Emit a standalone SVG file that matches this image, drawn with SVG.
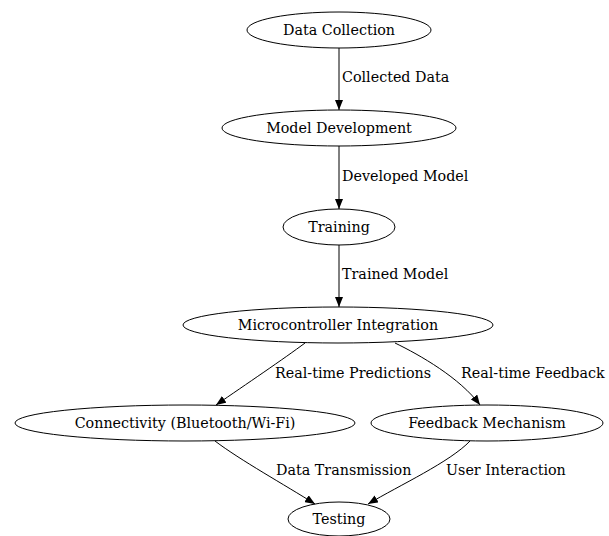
<svg xmlns="http://www.w3.org/2000/svg" width="609" height="536" viewBox="0 0 609 536">
<style>
.n ellipse{fill:none;stroke:#000;stroke-width:1}
text{font-family:"DejaVu Serif","Liberation Serif",serif;font-size:14.3px;fill:#000}
.n text{text-anchor:middle}
.e path{fill:none;stroke:#000;stroke-width:1}
</style>
<defs>
<marker id="ah" markerUnits="userSpaceOnUse" markerWidth="11" markerHeight="8" refX="10" refY="4" orient="auto">
<path d="M0,0 L10,4 L0,8 Z" fill="#000"/>
</marker>
</defs>
<rect width="609" height="536" fill="#fff"/>
<g class="e">
<path d="M339,48 L339,110" marker-end="url(#ah)"/>
<path d="M339,146 L339,209" marker-end="url(#ah)"/>
<path d="M339,245 L339,307" marker-end="url(#ah)"/>
<path d="M305,343 C285,358 245,385 216,405" marker-end="url(#ah)"/>
<path d="M395,343 C420,355 460,378 480,405" marker-end="url(#ah)"/>
<path d="M215,441 C240,460 285,485 315,504" marker-end="url(#ah)"/>
<path d="M470,441 C450,462 400,485 368,504" marker-end="url(#ah)"/>
<text x="342" y="82">Collected Data</text>
<text x="342" y="181">Developed Model</text>
<text x="342" y="279">Trained Model</text>
<text x="275" y="378">Real-time Predictions</text>
<text x="461" y="378">Real-time Feedback</text>
<text x="276" y="475">Data Transmission</text>
<text x="446" y="475">User Interaction</text>
</g>
<g id="data_collection" class="n"><ellipse cx="339" cy="30" rx="92" ry="18"/><text x="339" y="35">Data Collection</text></g>
<g id="model_development" class="n"><ellipse cx="339" cy="128" rx="117" ry="18"/><text x="339" y="133">Model Development</text></g>
<g id="training" class="n"><ellipse cx="339" cy="227" rx="56" ry="18"/><text x="339" y="232">Training</text></g>
<g id="microcontroller_integration" class="n"><ellipse cx="338" cy="325" rx="155" ry="18"/><text x="338" y="330">Microcontroller Integration</text></g>
<g id="connectivity" class="n"><ellipse cx="185" cy="423" rx="170" ry="18"/><text x="185" y="428">Connectivity (Bluetooth/Wi-Fi)</text></g>
<g id="feedback_mechanism" class="n"><ellipse cx="487" cy="423" rx="116" ry="18"/><text x="487" y="428">Feedback Mechanism</text></g>
<g id="testing" class="n"><ellipse cx="339" cy="519" rx="51" ry="17"/><text x="339" y="524">Testing</text></g>
</svg>
